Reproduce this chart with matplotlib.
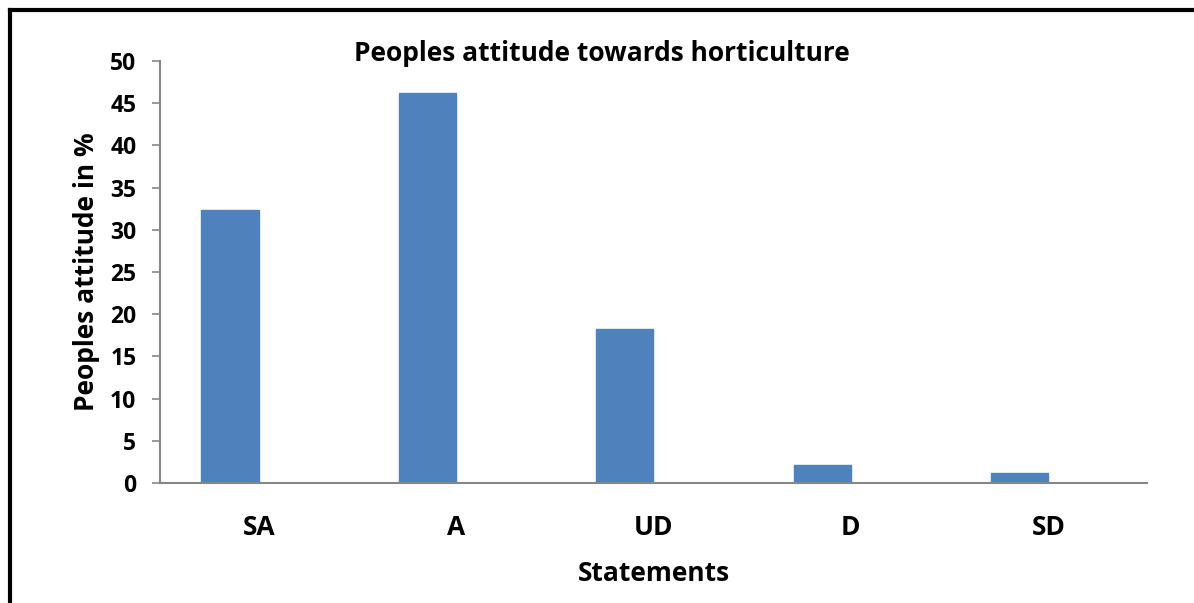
import matplotlib.pyplot as plt
from matplotlib.lines import Line2D

# Data
statements = ['SA', 'A', 'UD', 'D', 'SD']
attitude_pct = [32.3, 46.2, 18.2, 2.1, 1.2]

plt.rcParams['font.family'] = ['Open Sans', 'DejaVu Sans']
plt.rcParams['font.weight'] = 'bold'

fig = plt.figure(figsize=(11.94, 6.03), dpi=100)
ax = fig.add_axes([0.134, 0.199, 0.8266, 0.6998])

x = list(range(len(statements)))
# bars sit just left of each category centre (Excel clustered style)
ax.bar([i - 0.145 for i in x], attitude_pct, width=0.29, color='#4f81bd',
       edgecolor='#4f81bd', zorder=2)

ax.set_xlim(-0.5, len(statements) - 0.5)
ax.set_ylim(0, 50)
ax.set_yticks(range(0, 51, 5))
ax.set_xticks(x)
ax.set_xticklabels(statements)

for side in ['top', 'right']:
    ax.spines[side].set_visible(False)
for side in ['left', 'bottom']:
    ax.spines[side].set_color('#868686')
    ax.spines[side].set_linewidth(1.5)

ax.tick_params(axis='y', direction='out', length=6, width=1.2, color='#868686',
               labelsize=16.5, pad=11)
ax.tick_params(axis='x', length=0, labelsize=19, pad=22)
for lab in ax.get_xticklabels() + ax.get_yticklabels():
    lab.set_fontweight('bold')

ax.set_xlabel('Statements', fontsize=19, fontweight='bold', labelpad=14)
ax.set_ylabel('Peoples attitude in %', fontsize=19, fontweight='bold', labelpad=7)
fig.text(0.504, 0.912, 'Peoples attitude towards horticulture', ha='center',
         va='center', fontsize=19, fontweight='bold')

# frame around the chart (top and left edges visible)
fig.add_artist(Line2D([0.008, 1.0], [0.984, 0.984], color='black', linewidth=3,
                      transform=fig.transFigure))
fig.add_artist(Line2D([0.008, 0.008], [0.0, 0.984], color='black', linewidth=3,
                      transform=fig.transFigure))

fig.savefig('out.png', dpi=100)
